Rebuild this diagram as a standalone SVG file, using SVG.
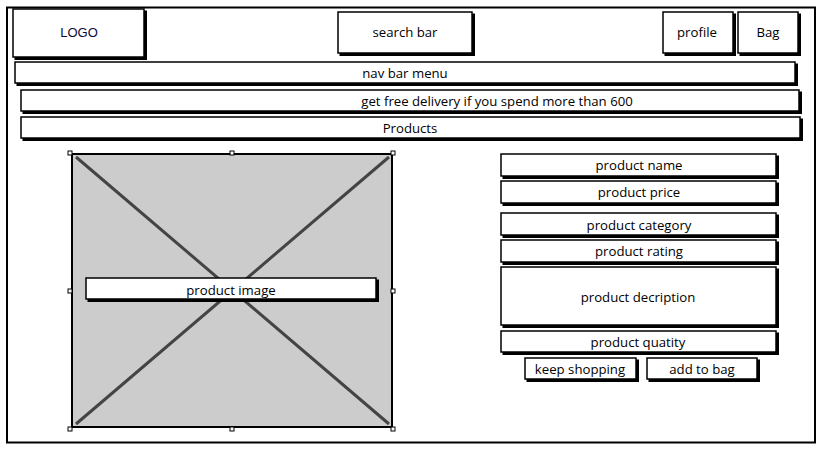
<svg xmlns="http://www.w3.org/2000/svg" width="824" height="449" viewBox="0 0 824 449">
<style>
.box{fill:#fff;stroke:#000;stroke-width:1.5}
.sh{fill:none;stroke:#000;stroke-width:3;stroke-linecap:square}
.t{font-family:"Open Sans","Noto Sans",sans-serif;font-size:13.2px;fill:#000;text-anchor:middle;dominant-baseline:central}
.logo{font-family:"Liberation Sans",Arial,sans-serif;font-size:13px;fill:#0a0a3a;text-anchor:middle;dominant-baseline:central}
.hd{fill:#fff;stroke:#000;stroke-width:1}
.xl{stroke:#444;stroke-width:3;fill:none}
</style>
<rect width="824" height="449" fill="#fff"/>
<g id="frame">
<rect x="7" y="7.5" width="808" height="435" fill="#fff" stroke="#000" stroke-width="2"/>
</g>
<g id="logo">
<rect class="box" x="13" y="9" width="131" height="48"/>
<path class="sh" d="M16 58.5 H145.5 V12"/>
<text class="logo" x="79" y="32">LOGO</text>
</g>
<g id="search">
<rect class="box" x="338" y="12" width="134" height="41"/>
<path class="sh" d="M341 54.5 H473.5 V15"/>
<text class="t" x="405" y="32">search bar</text>
</g>
<g id="profile">
<rect class="box" x="663" y="12" width="70" height="41"/>
<path class="sh" d="M666 54.5 H734.5 V15"/>
<text class="t" x="697" y="32">profile</text>
</g>
<g id="bag">
<rect class="box" x="738" y="12" width="60" height="41"/>
<path class="sh" d="M741 54.5 H799.5 V15"/>
<text class="t" x="768" y="32">Bag</text>
</g>
<g id="navbar">
<rect class="box" x="15" y="62" width="780" height="21"/>
<path class="sh" d="M18 84.5 H796.5 V65"/>
<text class="t" x="405" y="73">nav bar menu</text>
</g>
<g id="delivery">
<rect class="box" x="21" y="90" width="778" height="21"/>
<path class="sh" d="M24 112.5 H800.5 V93"/>
<text class="t" x="497" y="101">get free delivery if you spend more than 600</text>
</g>
<g id="products">
<rect class="box" x="21" y="117" width="779" height="21"/>
<path class="sh" d="M24 139.5 H801.5 V120"/>
<text class="t" x="410" y="128">Products</text>
</g>
<g id="image">
<rect x="72" y="154" width="320" height="273" fill="#ccc" stroke="#000" stroke-width="2"/>
<path class="xl" d="M76 157 L389 424 M389 157 L76 424"/>
<rect class="hd" x="68" y="151" width="4" height="4"/>
<rect class="hd" x="230" y="151" width="4" height="4"/>
<rect class="hd" x="391" y="151" width="4" height="4"/>
<rect class="hd" x="68" y="289" width="4" height="4"/>
<rect class="hd" x="391" y="289" width="4" height="4"/>
<rect class="hd" x="68" y="427" width="4" height="4"/>
<rect class="hd" x="230" y="427" width="4" height="4"/>
<rect class="hd" x="391" y="427" width="4" height="4"/>
</g>
<g id="image-label">
<rect class="box" x="86" y="278" width="290" height="21"/>
<path class="sh" d="M89 300.5 H377.5 V281"/>
<text class="t" x="231" y="289.5">product image</text>
</g>
<g id="pname">
<rect class="box" x="501" y="154" width="275" height="22"/>
<path class="sh" d="M504 177.5 H777.5 V157"/>
<text class="t" x="639" y="165">product name</text>
</g>
<g id="pprice">
<rect class="box" x="501" y="181" width="275" height="22"/>
<path class="sh" d="M504 204.5 H777.5 V184"/>
<text class="t" x="639" y="192">product price</text>
</g>
<g id="pcategory">
<rect class="box" x="501" y="213" width="275" height="22"/>
<path class="sh" d="M504 236.5 H777.5 V216"/>
<text class="t" x="639" y="224.5">product category</text>
</g>
<g id="prating">
<rect class="box" x="501" y="240" width="275" height="22"/>
<path class="sh" d="M504 263.5 H777.5 V243"/>
<text class="t" x="639" y="251">product rating</text>
</g>
<g id="pdesc">
<rect class="box" x="501" y="267" width="275" height="58"/>
<path class="sh" d="M504 326.5 H777.5 V270"/>
<text class="t" x="638" y="297">product decription</text>
</g>
<g id="pqty">
<rect class="box" x="501" y="331" width="275" height="21"/>
<path class="sh" d="M504 353.5 H777.5 V334"/>
<text class="t" x="638" y="342">product quatity</text>
</g>
<g id="keep">
<rect class="box" x="525" y="358" width="111" height="21"/>
<path class="sh" d="M528 380.5 H637.5 V361"/>
<text class="t" x="580" y="369">keep shopping</text>
</g>
<g id="addbag">
<rect class="box" x="647" y="358" width="110" height="21"/>
<path class="sh" d="M650 380.5 H758.5 V361"/>
<text class="t" x="702" y="369">add to bag</text>
</g>
<g id="connectors"></g>
</svg>
